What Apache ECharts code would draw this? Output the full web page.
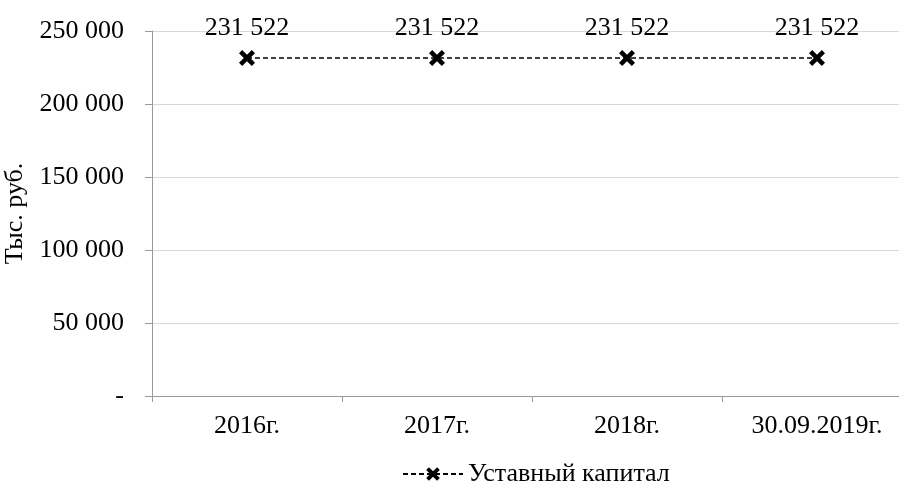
<!DOCTYPE html>
<html><head><meta charset="utf-8">
<script src="https://cdn.jsdelivr.net/npm/echarts@6/dist/echarts.min.js"></script>
<style>html,body{margin:0;padding:0;background:#fff;overflow:hidden}#c{width:899px;height:486px}</style>
</head><body><div id="c"></div>
<script>
var categories = ['2016г.', '2017г.', '2018г.', '30.09.2019г.'];
var values = [231522, 231522, 231522, 231522];
var seriesName = 'Уставный капитал';
var yAxisName = 'Тыс. руб.';

function fmt(v){
  if (v === 0) return '-';
  return String(v).replace(/\B(?=(\d{3})+(?!\d))/g, ' ');
}
var font = '"Liberation Serif", "Times New Roman", serif';
var fs = 26;
var xPath = 'path://M0,4 L4,0 L10,6 L16,0 L20,4 L14,10 L20,16 L16,20 L10,14 L4,20 L0,16 L6,10 Z';
var chart = echarts.init(document.getElementById('c'));
chart.setOption({
  animation: false,
  textStyle: {fontFamily: font},
  grid: {left: 152, width: 760, top: 31, height: 365, containLabel: false, outerBoundsMode: 'none'},
  legend: {
    top: 456, left: 397, itemWidth: 60, itemHeight: 17, itemGap: 8,
    lineStyle: {width: 2, type: [5, 3]},
    textStyle: {fontFamily: font, fontSize: fs, color: '#000'},
    data: [{name: seriesName}]
  },
  xAxis: {
    type: 'category', data: categories, boundaryGap: true,
    axisLine: {lineStyle: {color: '#9a9a9a', width: 1}},
    axisTick: {show: true, length: 6, lineStyle: {color: '#9a9a9a'}},
    axisLabel: {fontFamily: font, fontSize: fs, color: '#000', margin: 17}
  },
  yAxis: {
    type: 'value', min: 0, max: 250000, interval: 50000,
    name: yAxisName, nameLocation: 'middle', nameGap: 119, nameRotate: 90,
    nameTextStyle: {fontFamily: font, fontSize: fs, color: '#000'},
    axisLine: {show: true, lineStyle: {color: '#9a9a9a'}},
    axisTick: {show: true, inside: false, length: 7, lineStyle: {color: '#9a9a9a'}},
    axisLabel: {fontFamily: font, fontSize: fs, color: '#000', margin: 28, formatter: fmt},
    splitLine: {show: true, lineStyle: {color: '#d9d9d9', width: 1}}
  },
  series: [{
    name: seriesName, type: 'line', data: values,
    symbol: xPath, symbolSize: 16,
    itemStyle: {color: '#000'},
    lineStyle: {color: '#000', width: 1.5, type: [5, 3]},
    label: {show: true, position: 'top', distance: 9, fontFamily: font, fontSize: fs, color: '#000', formatter: function(p){return fmt(p.value);}}
  }]
});
</script></body></html>
